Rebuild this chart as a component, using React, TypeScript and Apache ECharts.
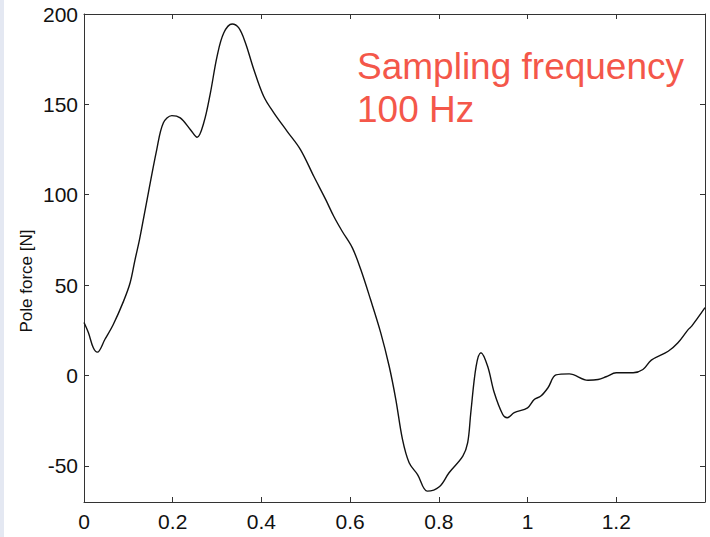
import React, { useEffect, useRef } from "react";
import * as echarts from "echarts";

const timeS: number[] = [
  0.0, 0.01, 0.021, 0.03, 0.047, 0.066, 0.089, 0.104, 0.115, 0.125, 0.138, 0.164, 0.179, 0.198,
  0.217, 0.24, 0.255, 0.27, 0.285, 0.3, 0.315, 0.334, 0.349, 0.364, 0.383, 0.405, 0.428, 0.458,
  0.488, 0.518, 0.545, 0.563, 0.582, 0.605, 0.624, 0.646, 0.669, 0.688, 0.703, 0.718, 0.733,
  0.752, 0.774, 0.801, 0.823, 0.854, 0.865, 0.872, 0.884, 0.895, 0.91, 0.925, 0.944, 0.954, 0.97,
  1.0, 1.015, 1.03, 1.046, 1.064, 1.094, 1.136, 1.159, 1.177, 1.2, 1.238, 1.26, 1.279, 1.317,
  1.339, 1.362, 1.37, 1.4,
];
const poleForce: number[] = [
  29.3, 23.6, 15.3, 12.9, 19.9, 28.2, 41, 51.3, 64, 75, 91.8, 125, 139.8, 143.8,
  142.5, 136, 131.8, 139.8, 156.4, 176.6, 189.5, 194.5, 192.3, 184, 169.2, 154.5, 145.3, 135.1,
  125, 110.2, 97.3, 88.1, 79.8, 70.6, 58.6, 42, 23.6, 5.1, -13.3, -35.4, -48.3,
  -54.8, -64, -61.6, -53.8, -44.6, -37.2, -20.6, 5.1, 12.6, 5.1, -9.6, -21.6, -23.4, -20.6,
  -17.9, -13.3, -11.4, -6.8, 0.3, 0.9, -2.6, -2.2, -0.7, 1.5, 1.5, 3.3, 8.5, 13.4,
  18.1, 25.4, 27.3, 37.5,
];
const xTicks: number[] = [0, 0.2, 0.4, 0.6, 0.8, 1, 1.2];
const yTicks: number[] = [-50, 0, 50, 100, 150, 200];
const yAxisTitle = "Pole force [N]";
const noteLines: string[] = ["Sampling frequency", "100 Hz"];

const FONT = "'Liberation Sans', Arial, Helvetica, sans-serif";

export default function App() {
  const ref = useRef<HTMLDivElement>(null);
  useEffect(() => {
    if (!ref.current) return;
    const chart = echarts.init(ref.current, undefined, { renderer: "svg" });
    const data = timeS.map((t, i) => [t, poleForce[i]]);
    const labelStyle = { color: "#111", fontSize: 21, fontFamily: FONT };
    const lineStyle = { color: "#333", width: 1 };
    chart.setOption({
      animation: false,
      backgroundColor: "#ffffff",
      grid: { left: 84, right: 5, top: 14, bottom: 35, show: false },
      xAxis: [
        {
          type: "value", min: 0, max: 1.4, position: "bottom",
          axisLine: { show: true, onZero: false, lineStyle },
          axisTick: { show: true, inside: true, length: 5, customValues: xTicks, lineStyle },
          axisLabel: { show: true, ...labelStyle, margin: 9, customValues: xTicks,
            formatter: (v: number) => String(Math.round(v * 10) / 10) },
          splitLine: { show: false },
        },
        {
          type: "value", min: 0, max: 1.4, position: "top",
          axisLine: { show: true, onZero: false, lineStyle },
          axisTick: { show: true, inside: true, length: 5, customValues: xTicks, lineStyle },
          axisLabel: { show: false },
          splitLine: { show: false },
        },
      ],
      yAxis: [
        {
          type: "value", min: -70, max: 200, position: "left",
          axisLine: { show: true, onZero: false, lineStyle },
          axisTick: { show: true, inside: true, length: 5, customValues: yTicks, lineStyle },
          axisLabel: { show: true, ...labelStyle, margin: 6, customValues: yTicks },
          splitLine: { show: false },
        },
        {
          type: "value", min: -70, max: 200, position: "right",
          axisLine: { show: true, onZero: false, lineStyle },
          axisTick: { show: true, inside: true, length: 5, customValues: yTicks, lineStyle },
          axisLabel: { show: false },
          splitLine: { show: false },
        },
      ],
      series: [
        {
          type: "line",
          data,
          xAxisIndex: 0,
          yAxisIndex: 0,
          showSymbol: false,
          smooth: 0.35,
          clip: true,
          lineStyle: { color: "#111", width: 1.4 },
        },
      ],
      graphic: [
        { type: "rect", left: 0, top: 0, shape: { width: 4, height: 537 }, style: { fill: "#e4e8f2" }, z: -1 },
        {
          type: "text", x: 26, y: 281, rotation: Math.PI / 2,
          style: { text: yAxisTitle, fill: "#111", font: `17px ${FONT}`, align: "center", verticalAlign: "middle" },
        },
        {
          type: "text", x: 357, y: 45,
          style: { text: noteLines.join("\n"), fill: "#f4574a", font: `37px ${FONT}`, lineHeight: 43, align: "left", verticalAlign: "top" },
        },
      ],
    });
    return () => chart.dispose();
  }, []);
  return <div ref={ref} style={{ position: "fixed", left: 0, top: 0, width: 710, height: 537 }} />;
}
